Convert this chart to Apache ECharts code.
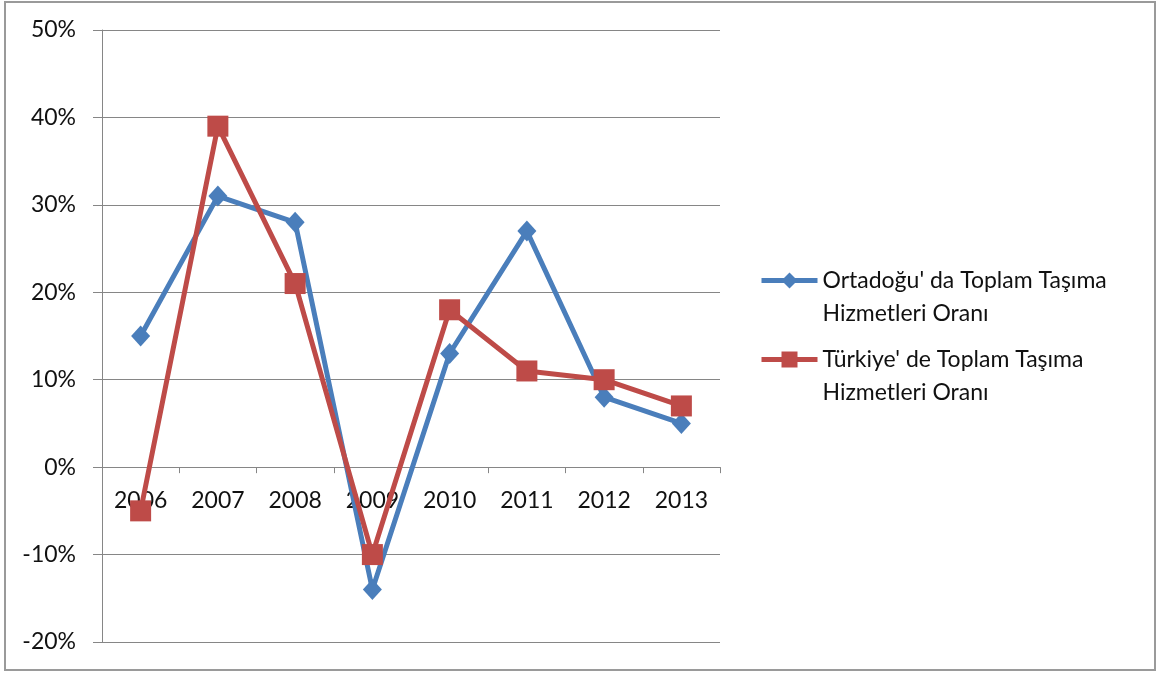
<!DOCTYPE html>
<html>
<head>
<meta charset="utf-8">
<script src="https://cdn.jsdelivr.net/npm/echarts@6/dist/echarts.min.js"></script>
<style>
  html, body { margin: 0; padding: 0; background: #fff; }
  #chart { width: 1157px; height: 675px; }
</style>
</head>
<body>
<div id="chart"></div>
<script>
// Years on the category axis
const years = ['2006', '2007', '2008', '2009', '2010', '2011', '2012', '2013'];
// Yearly change rates, in percent
const ortadoguRates = [15, 31, 28, -14, 13, 27, 8, 5];
const turkiyeRates = [-5, 39, 21, -10, 18, 11, 10, 7];
// Series names (legend wraps them onto two lines)
const ortadoguName = "Ortadoğu' da Toplam Taşıma Hizmetleri Oranı";
const turkiyeName = "Türkiye' de Toplam Taşıma Hizmetleri Oranı";
const legendLines = {};
legendLines[ortadoguName] = ["Ortadoğu' da Toplam Taşıma", "Hizmetleri Oranı"];
legendLines[turkiyeName] = ["Türkiye' de Toplam Taşıma", "Hizmetleri Oranı"];

// Value axis range
const Y_MIN = -20, Y_MAX = 50, Y_STEP = 10;

const FONT = 'Lato';
const TEXT_COLOR = '#111';
const GRID_COLOR = '#868686';
const BLUE = '#4A7EBB';
const RED = '#BE4B48';

const GRID = { left: 102, right: 437, top: 30, bottom: 33 };
const plotHeight = 675 - GRID.top - GRID.bottom;
// lift the category axis (line, ticks and labels) up to the zero line
const zeroOffset = -((0 - Y_MIN) / (Y_MAX - Y_MIN)) * plotHeight;

const chart = echarts.init(document.getElementById('chart'));

function legendFor(name, top) {
  return {
    data: [name],
    left: 759,
    top: top,
    orient: 'vertical',
    padding: 0,
    itemWidth: 56,
    itemHeight: 20,
    selectedMode: false,
    lineStyle: { width: 5 },
    formatter: n => '\n' + legendLines[n].join('\n'),
    textStyle: { fontFamily: FONT, fontSize: 23, color: TEXT_COLOR, lineHeight: 33 }
  };
}

chart.setOption({
  animation: false,
  backgroundColor: '#fff',
  graphic: [{
    type: 'rect',
    shape: { x: 5, y: 2, width: 1150, height: 668 },
    style: { fill: 'none', stroke: '#9a9a9a', lineWidth: 2 },
    silent: true
  }],
  grid: Object.assign({ containLabel: false, outerBoundsMode: 'none' }, GRID),
  legend: [legendFor(ortadoguName, 231), legendFor(turkiyeName, 310)],
  xAxis: {
    type: 'category',
    data: years,
    boundaryGap: true,
    offset: zeroOffset,
    axisLine: { onZero: false, lineStyle: { color: GRID_COLOR, width: 1 } },
    axisTick: { show: true, length: 6, lineStyle: { color: GRID_COLOR } },
    axisLabel: { margin: 22, fontFamily: FONT, fontSize: 23, color: TEXT_COLOR }
  },
  yAxis: {
    type: 'value',
    min: Y_MIN,
    max: Y_MAX,
    interval: Y_STEP,
    axisLine: { show: true, lineStyle: { color: GRID_COLOR, width: 1 } },
    axisTick: { show: true, length: 9, lineStyle: { color: GRID_COLOR } },
    splitLine: { show: true, lineStyle: { color: GRID_COLOR, width: 1 } },
    axisLabel: { margin: 26, formatter: '{value}%', fontFamily: FONT, fontSize: 23, color: TEXT_COLOR }
  },
  series: [
    {
      name: ortadoguName,
      type: 'line',
      data: ortadoguRates,
      symbol: 'diamond',
      symbolSize: [19, 21],
      lineStyle: { color: BLUE, width: 5 },
      itemStyle: { color: BLUE },
      z: 2
    },
    {
      name: turkiyeName,
      type: 'line',
      data: turkiyeRates,
      symbol: 'rect',
      symbolSize: 21,
      lineStyle: { color: RED, width: 5 },
      itemStyle: { color: RED },
      z: 3
    }
  ]
});
</script>
</body>
</html>
